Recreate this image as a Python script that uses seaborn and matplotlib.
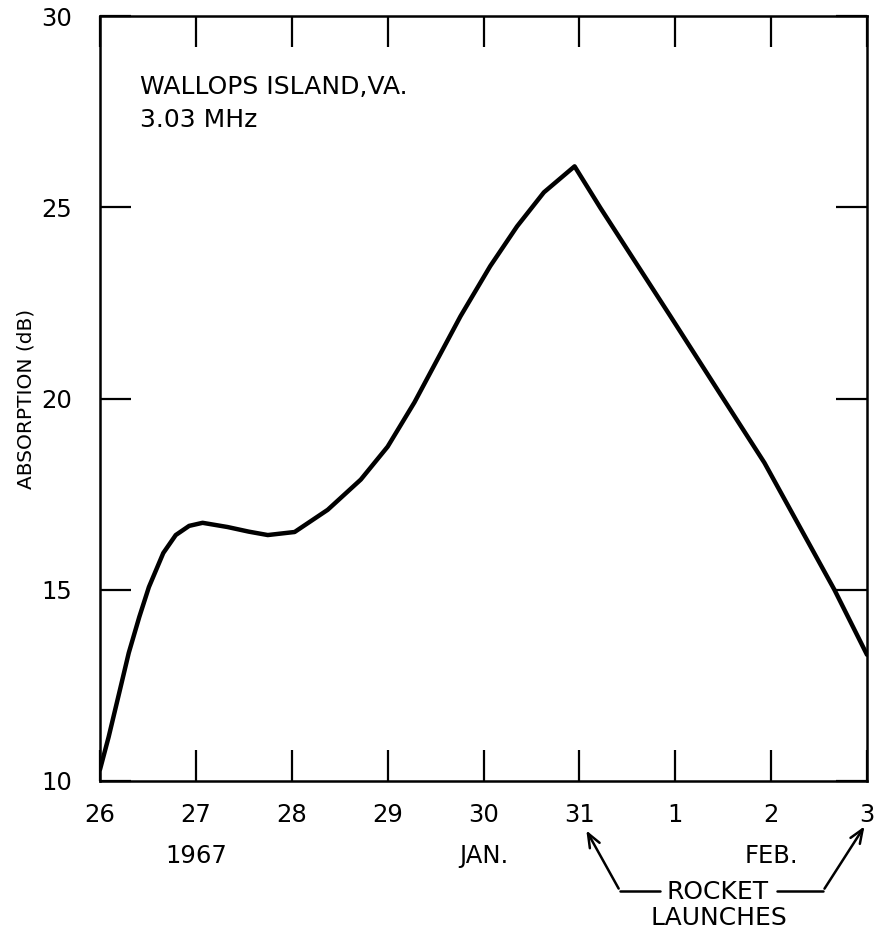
import matplotlib
matplotlib.use("Agg")
import matplotlib.pyplot as plt
import seaborn as sns
import pandas as pd

# days counted from 26 Jan 1967 (0 = Jan 26, 8 = Feb 3)
day_offset = [0.0, 0.09, 0.20, 0.30, 0.41, 0.51, 0.66, 0.79, 0.93, 1.07, 1.33,
              1.55, 1.75, 2.03, 2.375, 2.72, 3.0, 3.28, 3.76, 4.07, 4.35, 4.63,
              4.95, 5.22, 5.95, 6.41, 6.93, 7.66, 8.0]
absorption_db = [10.3, 11.15, 12.30, 13.35, 14.29, 15.07, 15.96, 16.43, 16.67,
                 16.75, 16.64, 16.52, 16.43, 16.51, 17.09, 17.88, 18.74, 19.90,
                 22.15, 23.46, 24.50, 25.39, 26.07, 24.98, 22.15, 20.35, 18.32,
                 15.0, 13.3]

tick_pos = [0, 1, 2, 3, 4, 5, 6, 7, 8]
tick_labels = ["26", "27\n1967", "28", "29", "30\nJAN.", "31", "1", "2\nFEB.", "3"]
y_ticks = [10, 15, 20, 25, 30]

df = pd.DataFrame({"day": day_offset, "db": absorption_db})

sns.set_style("white")
plt.rcParams["font.family"] = ["DejaVu Sans"]
plt.rcParams["text.color"] = "black"
plt.rcParams["xtick.color"] = "black"
plt.rcParams["ytick.color"] = "black"
plt.rcParams["axes.labelcolor"] = "black"

W, H = 880, 934
fig = plt.figure(figsize=(W / 100, H / 100), dpi=100)
ax = fig.add_axes([100 / W, 1 - 781 / H, 767 / W, 765 / H])

sns.lineplot(data=df, x="day", y="db", color="black", linewidth=3.2, ax=ax)

ax.set_xlim(0, 8)
ax.set_ylim(10, 30)
ax.set_xticks(tick_pos)
ax.set_xticklabels(tick_labels, fontsize=17.5, linespacing=1.9, va="top")
ax.set_yticks(y_ticks)
ax.set_yticklabels([str(v) for v in y_ticks], fontsize=17.5)
ax.tick_params(axis="both", direction="in", length=22, width=1.6,
               top=True, right=True, bottom=True, left=True, color="black")
ax.tick_params(axis="x", pad=16)
ax.tick_params(axis="y", pad=20)
for s in ax.spines.values():
    s.set_linewidth(1.8)
    s.set_color("black")

ax.set_xlabel("")
ax.set_ylabel("ABSORPTION (dB)", fontsize=14.5, labelpad=4)

ax.text(0.052, 0.907, "WALLOPS ISLAND,VA.", transform=ax.transAxes,
        fontsize=18, va="center", ha="left")
ax.text(0.052, 0.864, "3.03 MHz", transform=ax.transAxes,
        fontsize=18, va="center", ha="left")


def px(x, y):
    return (x / W, 1 - y / H)


fig.text(*px(718, 892), "ROCKET", fontsize=18, ha="center", va="center")
fig.text(*px(719, 918), "LAUNCHES", fontsize=18, ha="center", va="center")

line_kw = dict(color="black", linewidth=1.8, transform=fig.transFigure)
fig.add_artist(plt.Line2D([660 / W, 620 / W], [1 - 891 / H, 1 - 891 / H], **line_kw))
fig.add_artist(plt.Line2D([777 / W, 823 / W], [1 - 891 / H, 1 - 891 / H], **line_kw))
arrow = dict(arrowstyle="->,head_length=1.0,head_width=0.4", color="black", lw=1.8)
ax.annotate("", xy=px(585, 828), xycoords="figure fraction",
            xytext=px(620, 891), textcoords="figure fraction", arrowprops=arrow)
ax.annotate("", xy=px(866, 824), xycoords="figure fraction",
            xytext=px(823, 891), textcoords="figure fraction", arrowprops=arrow)

fig.savefig("out.png", dpi=100)
